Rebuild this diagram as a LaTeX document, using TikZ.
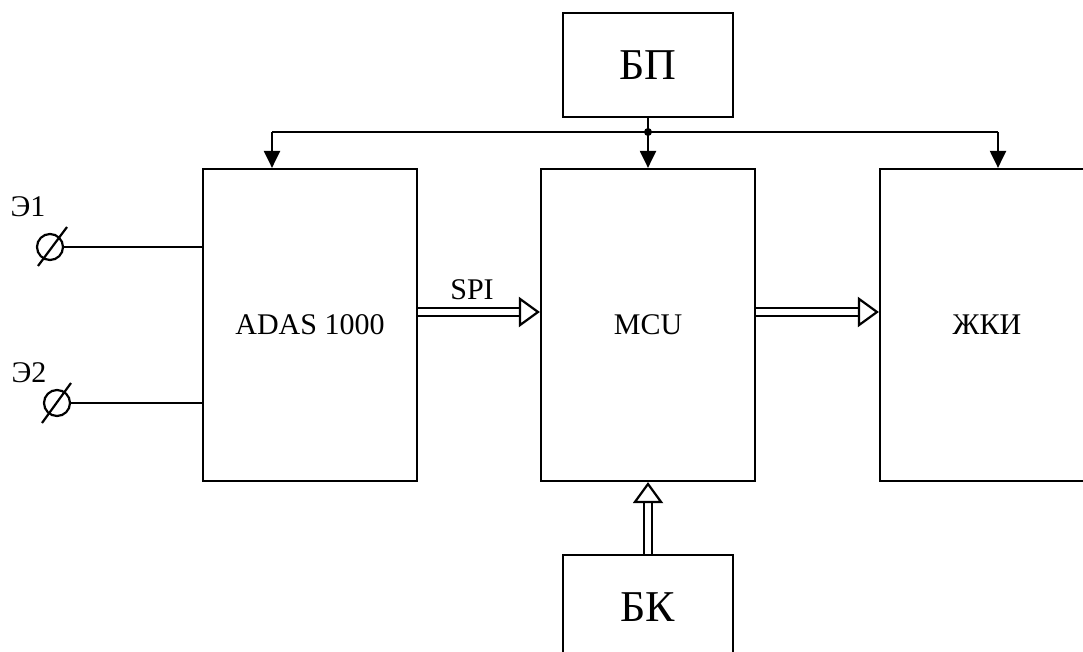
\documentclass[tikz,border=0pt]{standalone}
\usepackage{fontspec}
\setmainfont{Liberation Serif}
\usetikzlibrary{arrows.meta}
\begin{document}
\begin{tikzpicture}[x=1pt,y=-1pt,line width=2.2pt,
  font=\fontsize{30}{36}\selectfont,
  blok/.style={draw,minimum width=214pt,minimum height=312pt,inner sep=0pt},
  pit/.style={draw,minimum width=170pt,minimum height=104pt,inner sep=0pt,font=\fontsize{44}{52}\selectfont},
  svyaz/.style={-{Triangle[length=17pt,width=16pt]}},
  shina/.style={double,double distance=5.5pt,-{Triangle[open,length=21pt,width=30pt]}},
  elektrod/.style={circle,draw,minimum size=26pt,inner sep=0pt}]
\useasboundingbox (0,0) rectangle (1083,652);

\node[pit] (bp) at (648,65) {БП};
\node[blok] (adas) at (310,325) {ADAS 1000};
\node[blok] (mcu) at (648,325) {MCU};
\node[blok] (zhki) at (987,325) {ЖКИ};
\node[pit] (bk) at (648,607) {БК};

% shina pitaniya
\coordinate (uzel) at (648,132);
\coordinate (lev) at (272,132);
\coordinate (prav) at (998,132);
\draw (bp) -- (uzel);
\draw (lev) -- (prav);
\fill (uzel) circle (4pt);
\draw[svyaz] (lev) -- (lev |- adas.north);
\draw[svyaz] (uzel) -- (mcu);
\draw[svyaz] (prav) -- (prav |- zhki.north);

% dannye
\coordinate (urov) at (0,312);
\draw[shina] (adas.east |- urov) -- (mcu.west |- urov);
\node (spi) at (472,290) {SPI};
\draw[shina] (mcu.east |- urov) -- (zhki.west |- urov);
\draw[shina] (bk) -- (mcu);

% elektrody
\node[elektrod] (e1) at (50,247) {};
\node (e1lbl) at (28,207) {Э1};
\draw (e1) -- (e1 -| adas.west);
\draw (38,266) -- (67,227);

\node[elektrod] (e2) at (57,403) {};
\node (e2lbl) at (29,373) {Э2};
\draw (e2) -- (e2 -| adas.west);
\draw (42,423) -- (71,383);
\end{tikzpicture}
\end{document}
